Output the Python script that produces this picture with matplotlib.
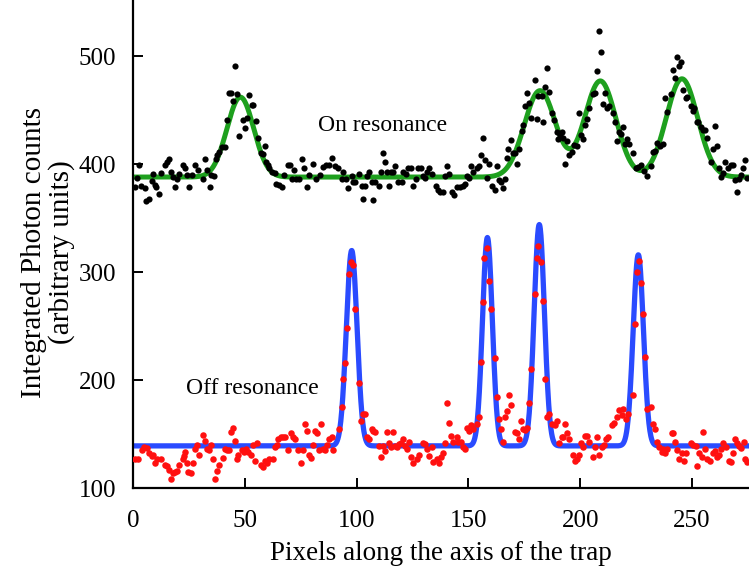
import numpy as np
import matplotlib
matplotlib.use("Agg")
import matplotlib.pyplot as plt

plt.rcParams['font.family'] = ['Liberation Serif', 'DejaVu Serif']

# "On resonance" data (black dots)
on_x = [1, 1.6, 2.7, 3.7, 5.4, 6, 7, 8.4, 9, 9.8, 10.5, 11.8, 12.4, 14.3, 15.4, 16.3, 16.8, 17.7, 18.7, 19.5,
        20.7, 22.2, 23.3, 24, 25.2, 26.2, 27.7, 29.2, 31.1, 32.2, 33.2, 34.4, 34.9, 36, 37.1, 37.7, 38.6, 39.6, 41, 41.9,
        43, 44, 44.7, 45.6, 46.3, 47.5, 49, 50, 50.8, 52, 53, 53.7, 55, 56, 57.1, 58, 59, 59.6, 60.4, 61,
        62.3, 63.3, 64, 65.5, 66.6, 67.7, 69.2, 70.1, 71, 72.1, 72.8, 74.3, 75.5, 76.5, 78, 78.8, 80.3, 81.8, 83.6, 84.8,
        86.3, 87.8, 89, 90.3, 91.8, 93.3, 94.1, 95.3, 96.3, 97.8, 98.5, 99.3, 101.2, 102.3, 103, 103.8, 104.8, 105.7, 106.7, 107.5,
        108.2, 110.2, 110.8, 111.7, 112.7, 113.4, 114.6, 115.2, 116.4, 117.2, 118.7, 120.2, 120.6, 122.1, 123.1, 124.2, 125.1, 126.6, 127.6, 128.6,
        129.8, 130.6, 131.6, 132.5, 133.6, 135.5, 136.5, 137.3, 138.8, 139.5, 140.3, 141.5, 142.5, 143.6, 144.7, 146.2, 147.4, 148.5, 149.2, 150.4,
        151, 152.2, 153.7, 154.9, 155.5, 156.4, 157.4, 158.2, 159.4, 160.4, 161.9, 162.6, 163.8, 164.4, 165.3, 166.4, 167.1, 167.9, 168.9, 169.8,
        170.8, 171.6, 172.8, 173.8, 174.6, 175.3, 176.1, 177.2, 177.8, 179.8, 180.5, 181.3, 182.7, 183.5, 184.2, 185.3, 186.2, 187.2, 188.3, 189.5,
        190.2, 190.9, 191.7, 192.4, 193.2, 194.2, 195.1, 196.2, 197.2, 198.4, 199.6, 200.2, 201.1, 202.1, 202.9, 204.1, 205.6, 206.6, 207.3, 208.5,
        209.3, 210, 211.1, 211.8, 213, 214.5, 215.5, 216.6, 217.5, 218.1, 219.3, 220, 221.1, 222, 223.7, 224.9, 226, 227, 228.5, 229.7,
        231.6, 232.7, 233.4, 234.5, 235.7, 236.9, 237.9, 238.9, 240.4, 241.3, 242.4, 243.1, 244.3, 245.2, 246.1, 247.3, 247.9, 249.4, 250.3, 250.9,
        252.1, 252.8, 253.9, 255, 255.8, 256.8, 258.3, 259.2, 260.3, 261.3, 262.2, 263.2, 264, 264.7, 266.2, 267.3, 268.2, 269.2, 270.2, 271.1,
        271.7, 272.6, 273.7, 274.4]
on_y = [379, 387, 399, 380, 378, 366, 368, 384, 391, 381, 379, 372, 392, 399, 402, 405, 393, 388, 379, 386,
        391, 399, 396, 390, 379, 390, 399, 395, 386, 405, 395, 379, 390, 389, 405, 408, 411, 416, 416, 441,
        466, 466, 458, 491, 465, 426, 441, 433, 443, 464, 455, 455, 440, 424, 410, 409, 417, 402, 399, 396,
        393, 392, 382, 381, 379, 390, 399, 399, 386, 395, 386, 386, 405, 396, 379, 390, 400, 386, 390, 397,
        399, 399, 406, 398, 396, 386, 393, 386, 378, 389, 383, 383, 391, 380, 368, 380, 389, 393, 383, 367,
        383, 380, 393, 410, 402, 393, 380, 393, 393, 398, 383, 383, 393, 391, 396, 396, 380, 386, 396, 396,
        389, 387, 393, 396, 391, 380, 376, 374, 374, 389, 398, 391, 374, 371, 379, 379, 380, 382, 389, 387,
        398, 393, 396, 398, 408, 424, 404, 387, 400, 380, 376, 398, 385, 383, 378, 386, 406, 414, 422, 410,
        410, 400, 414, 431, 436, 454, 466, 457, 443, 478, 442, 463, 463, 439, 471, 489, 467, 447, 441, 430,
        423, 427, 430, 424, 400, 421, 408, 411, 418, 417, 447, 427, 423, 436, 442, 452, 465, 466, 486, 523,
        504, 456, 466, 452, 454, 447, 439, 421, 430, 428, 434, 419, 423, 419, 410, 396, 397, 399, 394, 389,
        398, 411, 412, 420, 417, 419, 461, 448, 465, 487, 480, 499, 491, 495, 469, 461, 462, 454, 449, 452,
        439, 439, 434, 432, 432, 424, 402, 414, 435, 417, 396, 388, 392, 402, 396, 399, 399, 385, 374, 386,
        390, 396, 404, 387]

# "Off resonance" data (red dots)
off_x = [0.9, 2.4, 3.9, 4.9, 6.4, 7.3, 8.4, 9.1, 9.8, 10.9, 12.4, 14.3, 15.4, 16.3, 16.8, 17.7, 18.8, 19.8, 20.7, 22.2,
         22.8, 23.3, 24, 24.8, 25.8, 26.7, 27.7, 28.5, 29.7, 31.2, 32.2, 33.2, 34.1, 34.7, 35.6, 36.7, 37.7, 38.6, 40.1, 41.1,
         42.2, 43.1, 43.7, 44.6, 45.6, 46.4, 47.1, 48.6, 49.6, 50.5, 51.6, 52.6, 53.5, 54.6, 55.3, 57.1, 58, 59, 60.1, 61,
         62.5, 63.5, 64.5, 65, 66, 67.2, 68, 69.5, 70.5, 71.7, 72.4, 73.9, 75, 76.2, 76.9, 77.7, 78.9, 79.5, 80.4, 81.4,
         82.1, 83.3, 83.9, 84.8, 85.9, 86.9, 87.8, 88.9, 89.6, 92.3, 93.3, 94.1, 94.8, 95.9, 96.6, 97.3, 98.2, 99.3, 101.2, 102,
         102.7, 103.8, 104.5, 105.7, 106.7, 107.5, 108.2, 110.2, 110.8, 111.7, 112.7, 113.4, 114.6, 115.2, 116.1, 117.2, 117.9, 119.1, 119.7, 120.6,
         121.6, 122.4, 123.4, 124.2, 125.4, 126.9, 128, 129.5, 130.6, 131.3, 132.5, 133.6, 134.3, 135.8, 137, 137.6, 138.8, 139.5, 140.3, 141.5,
         142.1, 143.3, 144.7, 145.5, 146.5, 147.7, 148.5, 149.2, 150.4, 151, 152.2, 153.7, 154.9, 155.5, 156.4, 157, 158.2, 159.4, 160, 161.9,
         162.9, 163.8, 164.4, 165.3, 166.4, 167.1, 168.1, 169.1, 170.8, 171.6, 172.8, 173.4, 174.6, 175.3, 176.4, 177.2, 177.8, 179.8, 180.5, 181.3,
         182.4, 183.2, 184.2, 185, 186.2, 187.2, 188.7, 189.8, 190.6, 191.7, 192.4, 193.2, 194.2, 195.1, 196.9, 197.7, 198.4, 199.6, 200.2, 201.4,
         202.1, 203.2, 204.1, 205.6, 206.6, 207.6, 208.5, 209.6, 210.6, 211.5, 212.6, 214.1, 215.1, 216.3, 217.5, 218.5, 219.3, 220.5, 221.5, 223.7,
         224.5, 225.5, 226.3, 227.2, 228.2, 229, 230, 231.5, 232.7, 233.4, 234.5, 235.4, 236.4, 237.2, 237.9, 238.9, 240.9, 241.6, 242.4, 243.4,
         244.3, 245.4, 246.4, 247.3, 249.4, 250.6, 251.8, 252.4, 253.3, 254.3, 255, 255.8, 256.8, 258, 259.2, 260.3, 261.3, 262.2, 263.2, 264,
         265.2, 266.7, 267.3, 268.2, 269.2, 270.3, 271.1, 271.7, 273.2, 273.7, 274.7]
off_y = [127, 127, 135, 138, 137, 132, 130, 131, 123, 127, 127, 121, 120, 117, 108, 114, 115, 116, 121, 127,
         130, 133, 123, 115, 114, 123, 136, 140, 131, 149, 144, 136, 135, 140, 127, 108, 116, 121, 128, 136,
         135, 135, 152, 156, 144, 127, 131, 135, 133, 136, 133, 131, 140, 125, 142, 121, 119, 125, 123, 127,
         127, 138, 140, 145, 147, 147, 147, 135, 151, 147, 145, 135, 123, 135, 159, 153, 131, 128, 140, 153,
         151, 135, 159, 136, 135, 140, 145, 147, 135, 155, 175, 201, 216, 248, 298, 309, 307, 266, 197, 162,
         169, 169, 147, 145, 155, 153, 152, 139, 129, 139, 134, 152, 142, 138, 152, 139, 138, 141, 142, 145,
         139, 136, 143, 129, 123, 127, 131, 142, 141, 136, 130, 138, 124, 127, 123, 129, 132, 142, 179, 160,
         148, 143, 147, 143, 143, 138, 136, 156, 153, 158, 155, 159, 166, 217, 272, 313, 322, 292, 266, 220,
         184, 164, 155, 143, 166, 171, 186, 177, 152, 151, 145, 162, 155, 154, 156, 179, 210, 280, 313, 324,
         309, 273, 201, 166, 169, 159, 158, 162, 142, 147, 147, 159, 151, 145, 131, 125, 127, 131, 142, 138,
         148, 148, 143, 129, 138, 147, 131, 138, 140, 145, 147, 158, 160, 166, 172, 168, 173, 164, 169, 186,
         252, 300, 310, 290, 261, 221, 173, 175, 159, 155, 143, 138, 133, 136, 132, 136, 151, 151, 143, 135,
         127, 132, 125, 132, 142, 140, 139, 120, 132, 129, 152, 136, 127, 125, 132, 134, 129, 131, 136, 142,
         138, 125, 124, 132, 145, 142, 139, 137, 143, 127, 124]

# Gaussian fit parameters
on_base = 388
on_centers = [48, 182, 209, 245.5]
on_amps = [74, 80, 89, 91]
on_sigmas = [6, 7, 7, 7]

off_base = 139
off_centers = [97.8, 158.5, 181.7, 226]
off_amps = [181, 193, 205, 177]
off_sigmas = [2.4, 2.2, 2.3, 2.3]


def gauss_sum(x, base, centers, amps, sigmas):
    y = np.full_like(x, base, dtype=float)
    for c, a, s in zip(centers, amps, sigmas):
        y += a * np.exp(-(x - c) ** 2 / (2 * s ** 2))
    return y


xf = np.linspace(-5, 285, 2000)

fig = plt.figure(figsize=(7.49, 5.78), dpi=100)
ax = fig.add_axes([0.1776, 0.1557, 0.8224, 0.8443])

ax.plot(xf, gauss_sum(xf, on_base, on_centers, on_amps, on_sigmas), color='#1ea01e', lw=3.6, zorder=2)
ax.plot(xf, gauss_sum(xf, off_base, off_centers, off_amps, off_sigmas), color='#2a4bff', lw=3.8, zorder=2)
ax.scatter(on_x, on_y, s=20, color='black', zorder=3, linewidths=0)
ax.scatter(off_x, off_y, s=22, color='#ff1010', zorder=3, linewidths=0)

ax.set_xlim(0, 275.5)
ax.set_ylim(100, 552)

for s in ['top', 'right']:
    ax.spines[s].set_visible(False)
for s in ['left', 'bottom']:
    ax.spines[s].set_linewidth(1.6)

ax.set_xticks([0, 50, 100, 150, 200, 250])
ax.set_yticks([100, 200, 300, 400, 500])
ax.tick_params(direction='in', length=7, width=1.4, labelsize=18)
ax.tick_params(axis='x', pad=16)
ax.tick_params(axis='y', pad=12)

ax.set_xlabel('Pixels along the axis of the trap', fontsize=19.5, labelpad=6)
fig.text(48 / 749, 1 - 252 / 578, 'Integrated Photon counts\n(arbitrary units)', fontsize=21,
         rotation=90, ha='center', va='center', multialignment='center', linespacing=1.08)

ax.text(82.7, 436, 'On resonance', fontsize=17, ha='left', va='center')
ax.text(23.7, 192, 'Off resonance', fontsize=17, ha='left', va='center')

fig.savefig('out.png', dpi=100)
